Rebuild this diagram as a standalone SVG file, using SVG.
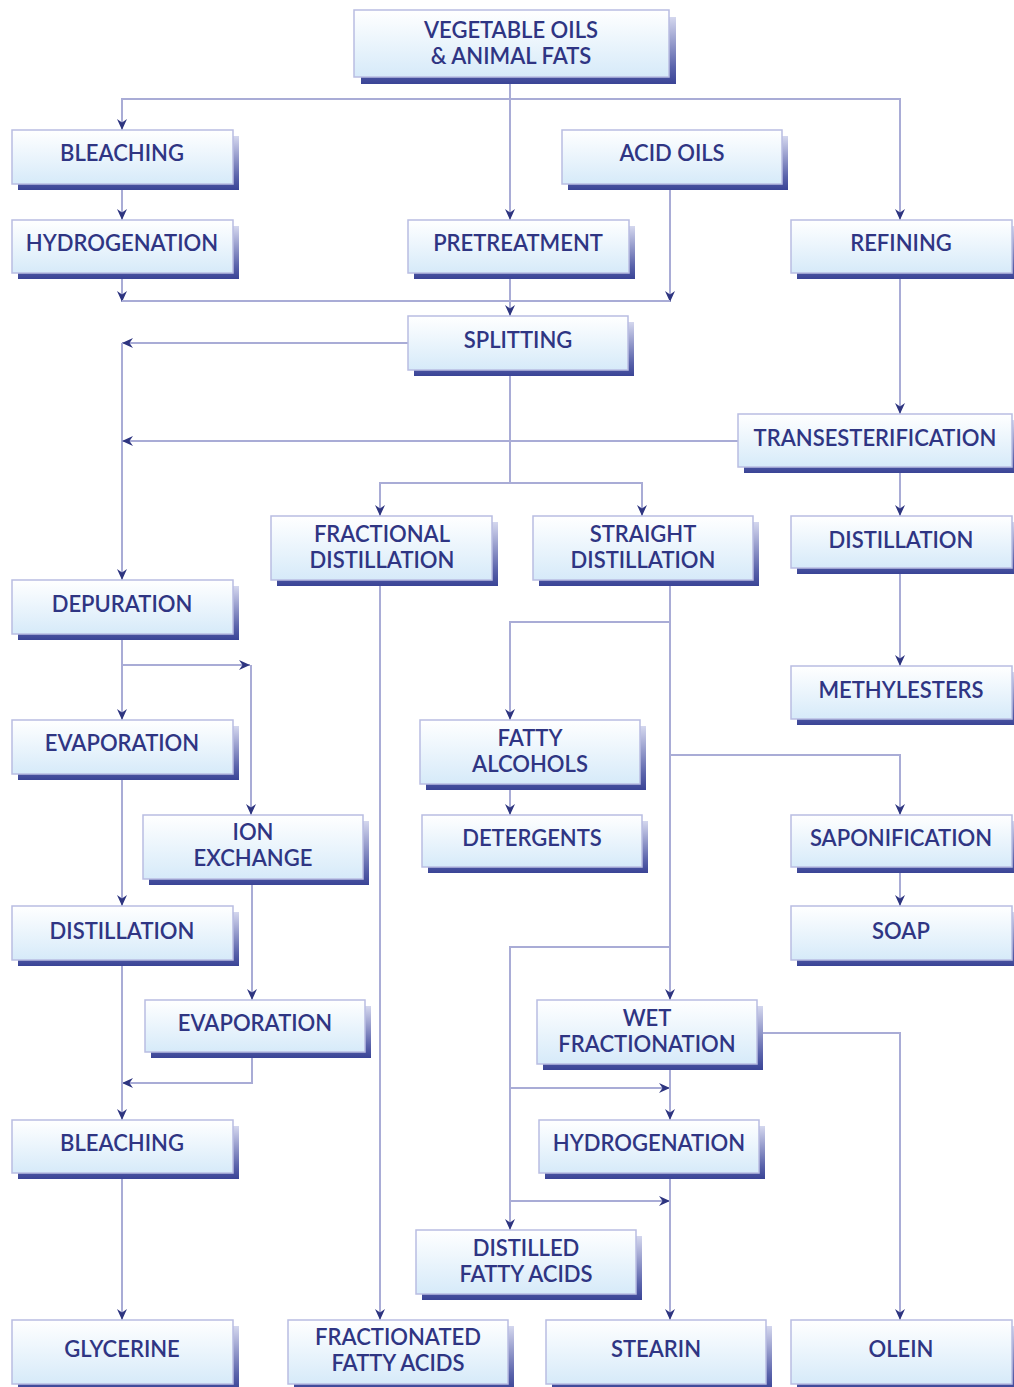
<svg xmlns="http://www.w3.org/2000/svg" width="1014" height="1387" viewBox="0 0 1014 1387">
<defs>
<linearGradient id="fill" x1="0" y1="0" x2="0" y2="1">
<stop offset="0" stop-color="#ffffff"/>
<stop offset="1" stop-color="#d6eaf9"/>
</linearGradient>
<linearGradient id="shad" x1="0" y1="0" x2="0" y2="1">
<stop offset="0" stop-color="#d4d7ee"/>
<stop offset="0.75" stop-color="#5a63ab"/>
<stop offset="1" stop-color="#3a4496"/>
</linearGradient>
<marker id="ar" viewBox="0 0 11 10" refX="11" refY="5" markerWidth="11" markerHeight="10" markerUnits="userSpaceOnUse" orient="auto">
<path d="M0,0 L11,5 L0,10 L3.5,5 z" fill="#2e3580"/>
</marker>
</defs>
<style>
.c{fill:none;stroke:#a9acd6;stroke-width:2}
.a{marker-end:url(#ar)}
.s{fill:url(#shad)}
.b{fill:url(#fill);stroke:#b9bde2;stroke-width:1.5}
text{font-family:Lato,"Open Sans","Liberation Sans",sans-serif;font-size:22px;font-weight:600;fill:#2f3583;text-anchor:middle;letter-spacing:0px}
</style>
<rect width="1014" height="1387" fill="#ffffff"/>
<g id="connectors">
<path class="c a" d="M510,84 V220"/>
<path class="c a" d="M510,99 H122 V130"/>
<path class="c a" d="M510,99 H900 V220"/>
<path class="c a" d="M122,184 V220"/>
<path class="c a" d="M122,273 V302"/>
<path class="c a" d="M670,184 V302"/>
<path class="c" d="M122,301 H670"/>
<path class="c a" d="M510,273 V316"/>
<path class="c a" d="M408,343 H122"/>
<path class="c a" d="M122,343 V580"/>
<path class="c a" d="M738,441 H122"/>
<path class="c a" d="M900,273 V414"/>
<path class="c a" d="M510,370 V483 H380 V516"/>
<path class="c a" d="M510,483 H642 V516"/>
<path class="c a" d="M900,467 V516"/>
<path class="c a" d="M900,568 V666"/>
<path class="c a" d="M380,580 V1320"/>
<path class="c a" d="M670,580 V1000"/>
<path class="c a" d="M670,622 H510 V720"/>
<path class="c a" d="M670,755 H900 V815"/>
<path class="c a" d="M670,947 H510 V1230"/>
<path class="c a" d="M510,1088 H670"/>
<path class="c a" d="M510,1201 H670"/>
<path class="c a" d="M510,784 V815"/>
<path class="c a" d="M900,867 V906"/>
<path class="c a" d="M670,1064 V1120"/>
<path class="c a" d="M757,1033 H900 V1320"/>
<path class="c a" d="M670,1173 V1320"/>
<path class="c a" d="M122,634 V720"/>
<path class="c a" d="M122,665 H250"/>
<path class="c a" d="M251,665 V815"/>
<path class="c a" d="M122,774 V906"/>
<path class="c a" d="M252,879 V1000"/>
<path class="c a" d="M252,1052 V1083 H122"/>
<path class="c a" d="M122,960 V1120"/>
<path class="c a" d="M122,1173 V1320"/>
</g>
<g id="n-veg"><rect class="s" x="361" y="17" width="315" height="67"/><rect class="b" x="354" y="10" width="315" height="67"/><text x="511" y="38">VEGETABLE OILS</text><text x="511" y="64">&amp; ANIMAL FATS</text></g>
<g id="n-bleach1"><rect class="s" x="18" y="136" width="221" height="54"/><rect class="b" x="12" y="130" width="221" height="54"/><text x="122" y="161">BLEACHING</text></g>
<g id="n-acid"><rect class="s" x="568" y="136" width="220" height="54"/><rect class="b" x="562" y="130" width="220" height="54"/><text x="672" y="161">ACID OILS</text></g>
<g id="n-hydro1"><rect class="s" x="18" y="226" width="221" height="53"/><rect class="b" x="12" y="220" width="221" height="53"/><text x="122" y="251">HYDROGENATION</text></g>
<g id="n-pretreat"><rect class="s" x="414" y="226" width="221" height="53"/><rect class="b" x="408" y="220" width="221" height="53"/><text x="518" y="251">PRETREATMENT</text></g>
<g id="n-refining"><rect class="s" x="797" y="226" width="221" height="53"/><rect class="b" x="791" y="220" width="221" height="53"/><text x="901" y="251">REFINING</text></g>
<g id="n-splitting"><rect class="s" x="414" y="322" width="220" height="54"/><rect class="b" x="408" y="316" width="220" height="54"/><text x="518" y="348">SPLITTING</text></g>
<g id="n-trans"><rect class="s" x="744" y="420" width="274" height="53"/><rect class="b" x="738" y="414" width="274" height="53"/><text x="875" y="446">TRANSESTERIFICATION</text></g>
<g id="n-fracdist"><rect class="s" x="277" y="522" width="221" height="64"/><rect class="b" x="271" y="516" width="221" height="64"/><text x="382" y="542">FRACTIONAL</text><text x="382" y="568">DISTILLATION</text></g>
<g id="n-straight"><rect class="s" x="539" y="522" width="220" height="64"/><rect class="b" x="533" y="516" width="220" height="64"/><text x="643" y="542">STRAIGHT</text><text x="643" y="568">DISTILLATION</text></g>
<g id="n-dist-r"><rect class="s" x="797" y="522" width="221" height="52"/><rect class="b" x="791" y="516" width="221" height="52"/><text x="901" y="548">DISTILLATION</text></g>
<g id="n-depur"><rect class="s" x="18" y="586" width="221" height="54"/><rect class="b" x="12" y="580" width="221" height="54"/><text x="122" y="612">DEPURATION</text></g>
<g id="n-methyl"><rect class="s" x="797" y="672" width="221" height="53"/><rect class="b" x="791" y="666" width="221" height="53"/><text x="901" y="698">METHYLESTERS</text></g>
<g id="n-evap1"><rect class="s" x="18" y="726" width="221" height="54"/><rect class="b" x="12" y="720" width="221" height="54"/><text x="122" y="751">EVAPORATION</text></g>
<g id="n-fatty"><rect class="s" x="426" y="726" width="220" height="64"/><rect class="b" x="420" y="720" width="220" height="64"/><text x="530" y="746">FATTY</text><text x="530" y="772">ALCOHOLS</text></g>
<g id="n-ion"><rect class="s" x="149" y="821" width="220" height="64"/><rect class="b" x="143" y="815" width="220" height="64"/><text x="253" y="840">ION</text><text x="253" y="866">EXCHANGE</text></g>
<g id="n-deterg"><rect class="s" x="428" y="821" width="220" height="52"/><rect class="b" x="422" y="815" width="220" height="52"/><text x="532" y="846">DETERGENTS</text></g>
<g id="n-sapon"><rect class="s" x="797" y="821" width="221" height="52"/><rect class="b" x="791" y="815" width="221" height="52"/><text x="901" y="846">SAPONIFICATION</text></g>
<g id="n-dist-l"><rect class="s" x="18" y="912" width="221" height="54"/><rect class="b" x="12" y="906" width="221" height="54"/><text x="122" y="939">DISTILLATION</text></g>
<g id="n-soap"><rect class="s" x="797" y="912" width="221" height="54"/><rect class="b" x="791" y="906" width="221" height="54"/><text x="901" y="939">SOAP</text></g>
<g id="n-evap2"><rect class="s" x="151" y="1006" width="220" height="52"/><rect class="b" x="145" y="1000" width="220" height="52"/><text x="255" y="1031">EVAPORATION</text></g>
<g id="n-wet"><rect class="s" x="543" y="1006" width="220" height="64"/><rect class="b" x="537" y="1000" width="220" height="64"/><text x="647" y="1026">WET</text><text x="647" y="1052">FRACTIONATION</text></g>
<g id="n-bleach2"><rect class="s" x="18" y="1126" width="221" height="53"/><rect class="b" x="12" y="1120" width="221" height="53"/><text x="122" y="1151">BLEACHING</text></g>
<g id="n-hydro2"><rect class="s" x="545" y="1126" width="220" height="53"/><rect class="b" x="539" y="1120" width="220" height="53"/><text x="649" y="1151">HYDROGENATION</text></g>
<g id="n-distilled"><rect class="s" x="422" y="1236" width="220" height="64"/><rect class="b" x="416" y="1230" width="220" height="64"/><text x="526" y="1256">DISTILLED</text><text x="526" y="1282">FATTY ACIDS</text></g>
<g id="n-glycerine"><rect class="s" x="18" y="1326" width="221" height="64"/><rect class="b" x="12" y="1320" width="221" height="64"/><text x="122" y="1357">GLYCERINE</text></g>
<g id="n-fracacids"><rect class="s" x="294" y="1326" width="220" height="64"/><rect class="b" x="288" y="1320" width="220" height="64"/><text x="398" y="1345">FRACTIONATED</text><text x="398" y="1371">FATTY ACIDS</text></g>
<g id="n-stearin"><rect class="s" x="552" y="1326" width="220" height="64"/><rect class="b" x="546" y="1320" width="220" height="64"/><text x="656" y="1357">STEARIN</text></g>
<g id="n-olein"><rect class="s" x="797" y="1326" width="221" height="64"/><rect class="b" x="791" y="1320" width="221" height="64"/><text x="901" y="1357">OLEIN</text></g>
</svg>
